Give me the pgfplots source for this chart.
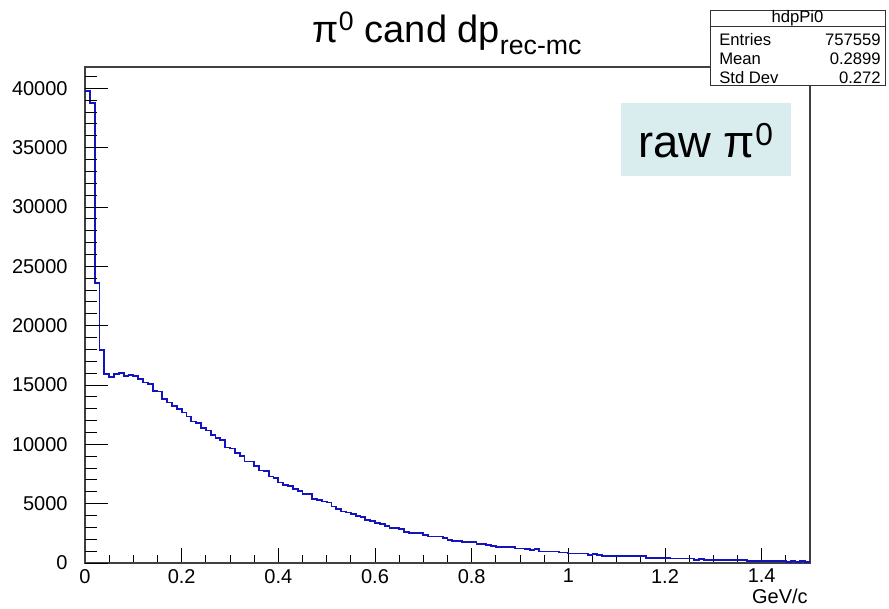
\documentclass[border=0pt]{standalone}
\usepackage{fontspec}
\setmainfont{Liberation Sans}
\usepackage{pgfplots}
\pgfplotsset{compat=1.18}
\definecolor{histblue}{RGB}{20,20,190}
\definecolor{boxfill}{RGB}{217,236,238}
\begin{document}
\begin{tikzpicture}
\begin{axis}[
  name=main,
  scale only axis, width=543.75pt, height=372pt,
  xmin=0, xmax=1.5, ymin=0, ymax=41800,
  axis line style={black!75, line width=0.8pt},
  tick align=inside, xtick pos=bottom, ytick=\empty,
  xtick={0,0.2,0.4,0.6,0.8,1,1.2,1.4},
  minor xtick={0,0.05,...,1.5},
  major tick length=11.25pt, minor tick length=6pt,
  tick style={black, line width=0.7pt},
  /pgf/number format/assume math mode=true,
  /pgf/number format/1000 sep={},
  xticklabel style={font=\fontsize{15}{17}\selectfont, yshift=-1pt},
  clip=false,
]
\addplot[const plot mark left, histblue, line width=1.3pt] coordinates {
(0.00,39780) (0.01,38770) (0.02,23570) (0.03,17950) (0.04,15940)
(0.05,15660) (0.06,15900) (0.07,16000) (0.08,15770) (0.09,15830)
(0.10,15770) (0.11,15490) (0.12,15210) (0.13,15070) (0.14,14510)
(0.15,14450) (0.16,13810) (0.17,13520) (0.18,13240) (0.19,12970)
(0.20,12680) (0.21,12340) (0.22,11920) (0.23,11790) (0.24,11370)
(0.25,11160) (0.26,10800) (0.27,10520) (0.28,10380) (0.29,9740)
(0.30,9650) (0.31,9290) (0.32,9030) (0.33,8560) (0.34,8560)
(0.35,8190) (0.36,7800) (0.37,7740) (0.38,7290) (0.39,7150)
(0.40,6790) (0.41,6590) (0.42,6510) (0.43,6230) (0.44,6090)
(0.45,5810) (0.46,5810) (0.47,5410) (0.48,5330) (0.49,5190)
(0.50,5100) (0.51,4770) (0.52,4550) (0.53,4340) (0.54,4260)
(0.55,4150) (0.56,3980) (0.57,3870) (0.58,3650) (0.59,3560)
(0.60,3400) (0.61,3280) (0.62,3140) (0.63,2950) (0.64,2950)
(0.65,2860) (0.66,2610) (0.67,2530) (0.68,2530) (0.69,2530)
(0.70,2330) (0.71,2240) (0.72,2240) (0.73,2240) (0.74,2100)
(0.75,1960) (0.76,1880) (0.77,1880) (0.78,1740) (0.79,1740)
(0.80,1740) (0.81,1630) (0.82,1630) (0.83,1520) (0.84,1430)
(0.85,1350) (0.86,1350) (0.87,1350) (0.88,1350) (0.89,1220)
(0.90,1230) (0.91,1180) (0.92,1120) (0.93,1210) (0.94,980)
(0.95,980) (0.96,980) (0.97,980) (0.98,890) (0.99,890)
(1.00,810) (1.01,810) (1.02,810) (1.03,810) (1.04,700)
(1.05,780) (1.06,700) (1.07,615) (1.08,615) (1.09,615)
(1.10,560) (1.11,560) (1.12,560) (1.13,560) (1.14,560)
(1.15,560) (1.16,450) (1.17,450) (1.18,450) (1.19,450)
(1.20,450) (1.21,390) (1.22,390) (1.23,390) (1.24,390)
(1.25,390) (1.26,280) (1.27,365) (1.28,280) (1.29,280)
(1.30,280) (1.31,280) (1.32,280) (1.33,280) (1.34,280)
(1.35,280) (1.36,280) (1.37,140) (1.38,140) (1.39,140)
(1.40,140) (1.41,140) (1.42,140) (1.43,140) (1.44,140)
(1.45,84) (1.46,140) (1.47,84) (1.48,140) (1.49,84)
(1.50,84)
};
\end{axis}
\begin{axis}[
  scale only axis, width=543.75pt, height=372pt,
  xmin=0, xmax=1.5, ymin=0, ymax=41800,
  axis line style={draw=none},
  tick align=inside, ytick pos=left, xtick=\empty,
  ytick={0,5000,...,40000},
  minor ytick={0,1000,...,41000},
  scaled y ticks=false,
  major tick length=17pt, minor tick length=9pt,
  tick style={black, line width=0.7pt},
  /pgf/number format/assume math mode=true,
  /pgf/number format/1000 sep={},
  /pgf/number format/fixed,
  yticklabel style={font=\fontsize{15}{17}\selectfont, xshift=-9.5pt},
]
\end{axis}
\begin{scope}[shift={(-63.75pt,422.25pt)}, x=0.75pt, y=-0.75pt]
\path[use as bounding box] (0,0) rectangle (889,608);
% title
\node[anchor=base, inner sep=0pt] at (447,43) {\fontsize{28.5}{30}\selectfont π\textsuperscript{0} cand dp\raisebox{-0.3em}{\fontsize{20}{21}\selectfont rec-mc}};
% x label
\node[anchor=base east, inner sep=0pt] at (808,603) {\fontsize{15}{17}\selectfont GeV/c};
% raw pi0 box
\fill[boxfill] (621,103) rectangle (791,176);
\node[inner sep=0pt] at (706,141) {\fontsize{34}{38}\selectfont raw π\textsuperscript{0}};
% stats box
\filldraw[fill=white, draw=black!80, line width=0.7pt] (710,10) rectangle (885,85);
\draw[black!80, line width=0.7pt] (710,26.5) -- (885,26.5);
\node[inner sep=0pt] at (797.5,18.5) {\fontsize{12.5}{13}\selectfont hdpPi0};
\node[anchor=west, inner sep=0pt] at (719,39.5) {\fontsize{12.5}{13}\selectfont Entries};
\node[anchor=east, inner sep=0pt] at (881,39.5) {\fontsize{12.5}{13}\selectfont 757559};
\node[anchor=west, inner sep=0pt] at (719,59) {\fontsize{12.5}{13}\selectfont Mean};
\node[anchor=east, inner sep=0pt] at (881,59) {\fontsize{12.5}{13}\selectfont 0.2899};
\node[anchor=west, inner sep=0pt] at (719,78) {\fontsize{12.5}{13}\selectfont Std Dev};
\node[anchor=east, inner sep=0pt] at (881,78) {\fontsize{12.5}{13}\selectfont 0.272};
\end{scope}
\end{tikzpicture}
\end{document}
